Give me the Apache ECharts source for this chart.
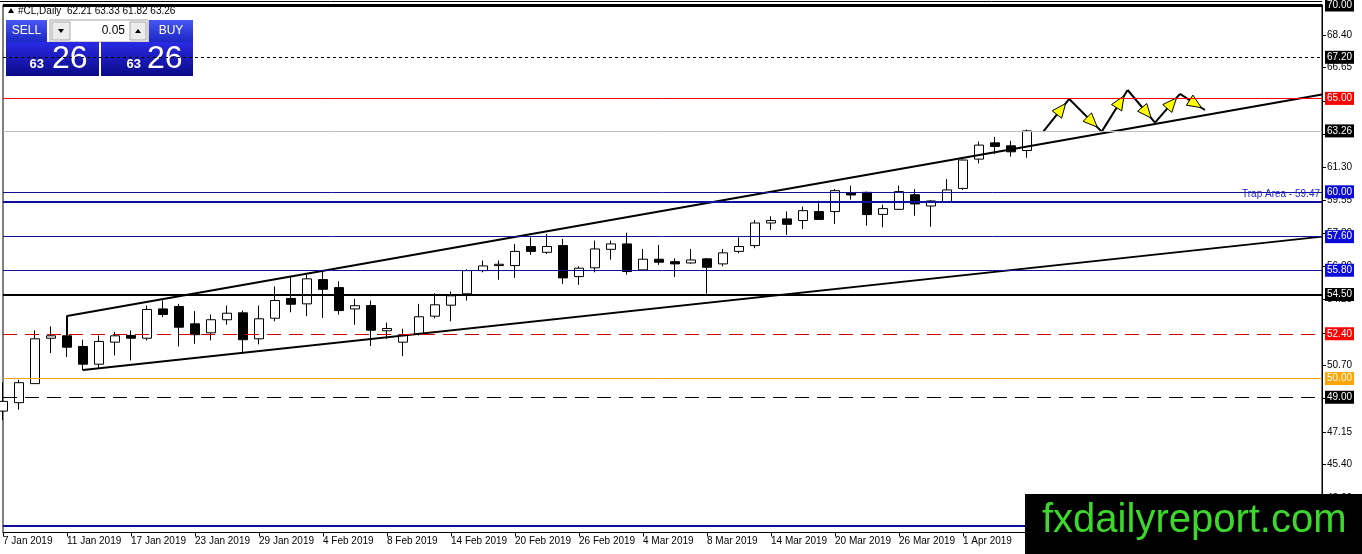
<!DOCTYPE html>
<html>
<head>
<meta charset="utf-8">
<title>#CL,Daily</title>
<script src="https://cdn.jsdelivr.net/npm/echarts@6/dist/echarts.min.js"></script>
<style>
    html, body { margin: 0; padding: 0; background: #fff; }
    #chart { width: 1362px; height: 554px; }
</style>
</head>
<body>
<div id="chart"></div>
<script>
// one bar per trading day, 7 Jan 2019 .. 5 Apr 2019
const dates = [
    '7 Jan 2019', '8 Jan 2019', '9 Jan 2019', '10 Jan 2019', '11 Jan 2019',
    '14 Jan 2019', '15 Jan 2019', '16 Jan 2019', '17 Jan 2019', '18 Jan 2019',
    '21 Jan 2019', '22 Jan 2019', '23 Jan 2019', '24 Jan 2019', '25 Jan 2019',
    '28 Jan 2019', '29 Jan 2019', '30 Jan 2019', '31 Jan 2019', '1 Feb 2019',
    '4 Feb 2019', '5 Feb 2019', '6 Feb 2019', '7 Feb 2019', '8 Feb 2019',
    '11 Feb 2019', '12 Feb 2019', '13 Feb 2019', '14 Feb 2019', '15 Feb 2019',
    '18 Feb 2019', '19 Feb 2019', '20 Feb 2019', '21 Feb 2019', '22 Feb 2019',
    '25 Feb 2019', '26 Feb 2019', '27 Feb 2019', '28 Feb 2019', '1 Mar 2019',
    '4 Mar 2019', '5 Mar 2019', '6 Mar 2019', '7 Mar 2019', '8 Mar 2019',
    '11 Mar 2019', '12 Mar 2019', '13 Mar 2019', '14 Mar 2019', '15 Mar 2019',
    '18 Mar 2019', '19 Mar 2019', '20 Mar 2019', '21 Mar 2019', '22 Mar 2019',
    '25 Mar 2019', '26 Mar 2019', '27 Mar 2019', '28 Mar 2019', '29 Mar 2019',
    '1 Apr 2019', '2 Apr 2019', '3 Apr 2019', '4 Apr 2019', '5 Apr 2019'
];

const opens = [
    48.26, 48.71, 49.73, 52.16, 52.29, 51.72, 50.77, 51.95, 52.31, 52.16,
    53.73, 53.86, 52.93, 52.45, 53.15, 53.52, 52.13, 53.23, 54.29, 54.00,
    55.30, 54.87, 53.73, 53.91, 52.56, 51.95, 52.40, 53.34, 53.93, 54.54,
    55.78, 56.05, 56.05, 57.07, 56.76, 57.12, 55.46, 55.93, 56.92, 57.21,
    55.82, 56.39, 56.26, 56.19, 56.41, 56.14, 56.81, 57.12, 58.33, 58.55,
    58.46, 58.94, 58.94, 59.94, 59.97, 58.79, 59.06, 59.84, 59.24, 59.47,
    60.18, 61.75, 62.62, 62.46, 62.21
];
const closes = [
    48.78, 49.78, 52.13, 52.29, 51.68, 50.77, 51.99, 52.29, 52.16, 53.70,
    53.43, 52.75, 52.35, 53.15, 53.50, 52.08, 53.20, 54.18, 53.98, 55.34,
    54.78, 53.64, 53.90, 52.59, 52.68, 52.35, 53.31, 53.95, 54.43, 55.78,
    56.03, 56.12, 56.81, 56.81, 57.07, 55.39, 55.91, 56.94, 57.21, 55.73,
    56.39, 56.23, 56.14, 56.35, 55.96, 56.73, 57.07, 58.33, 58.46, 58.26,
    58.99, 58.52, 60.06, 59.83, 58.78, 59.10, 60.01, 59.35, 59.51, 60.10,
    61.70, 62.50, 62.43, 62.14, 63.26
];
const lows = [
    47.77, 48.34, 49.73, 51.36, 51.15, 50.44, 50.58, 51.24, 50.97, 52.04,
    53.29, 51.72, 51.86, 52.04, 52.88, 51.33, 51.83, 53.07, 53.55, 53.34,
    53.25, 53.43, 52.88, 51.74, 52.13, 51.20, 52.31, 53.23, 53.07, 54.18,
    55.69, 55.29, 55.39, 56.62, 56.67, 55.07, 55.02, 55.69, 56.37, 55.57,
    55.82, 56.09, 55.43, 56.14, 54.54, 56.01, 56.71, 56.98, 57.96, 57.69,
    58.01, 58.52, 58.28, 59.58, 58.19, 58.10, 59.03, 58.72, 58.13, 59.47,
    60.10, 61.52, 62.02, 61.88, 61.82
];
const highs = [
    49.80, 49.94, 52.58, 52.79, 52.43, 52.08, 52.31, 52.50, 52.58, 53.91,
    54.18, 54.00, 53.61, 53.43, 53.91, 53.64, 53.91, 54.93, 55.43, 55.57,
    55.75, 55.20, 54.27, 54.18, 53.00, 52.67, 54.00, 54.57, 54.66, 55.85,
    56.32, 56.32, 57.21, 57.56, 57.74, 57.48, 56.01, 57.39, 57.39, 57.81,
    56.94, 57.16, 56.44, 56.94, 56.46, 56.94, 57.56, 58.49, 58.69, 58.95,
    59.20, 59.52, 60.15, 60.33, 60.01, 59.31, 60.33, 60.15, 59.55, 60.68,
    61.72, 62.69, 62.94, 62.73, 63.33
];

// price scale ticks as printed on the right
const priceTicks = [68.40, 66.65, 64.85, 63.10, 61.30, 59.55, 57.80, 56.00,
    54.25, 52.45, 50.70, 48.95, 47.15, 45.40, 43.60];

// horizontal levels drawn on the chart
const levels = [70.00, 67.20, 65.00, 63.26, 60.00, 59.47, 57.60, 55.80,
    54.50, 52.40, 50.00, 49.00, 42.10];

// hand drawn objects: [bar index, price]
const upperChannel = [[4, 52.33], [4, 53.35], [82.44, 65.21]];
const lowerChannel = [[5, 50.46], [82.44, 57.60]];
const zigzag = [[65.02, 63.22], [66.64, 64.97], [68.67, 63.22], [70.29, 65.45],
    [72.00, 63.70], [73.56, 65.24], [75.12, 64.38]];

const FONT = '"Liberation Sans", Arial, sans-serif';
const BLUE_LINE = '#10109c';
const BLUE_TAG = '#0c0cd8';

const levelStyle = {
    '70.00': {line: '#000', width: 3, type: 'solid', tag: '#000'},
    '67.20': {line: '#000', width: 1, type: [3, 3], tag: '#000'},
    '65.00': {line: '#ff0000', width: 1, type: 'solid', tag: '#ff0000'},
    '63.26': {line: '#c0c0c0', width: 1, type: 'solid', tag: '#000'},
    '60.00': {line: BLUE_LINE, width: 1, type: 'solid', tag: BLUE_TAG},
    '59.47': {line: BLUE_LINE, width: 2, type: 'solid', note: 'Trap Area'},
    '57.60': {line: BLUE_LINE, width: 1, type: 'solid', tag: BLUE_TAG},
    '55.80': {line: BLUE_LINE, width: 1, type: 'solid', tag: BLUE_TAG},
    '54.50': {line: '#000', width: 2, type: 'solid', tag: '#000'},
    '52.40': {line: '#cc0000', width: 1, type: [14, 8], tag: '#ff0000'},
    '50.00': {line: '#f5a000', width: 1, type: 'solid', tag: '#ffa500'},
    '49.00': {line: '#000', width: 1, type: [14, 8], tag: '#000'},
    '42.10': {line: BLUE_LINE, width: 2, type: 'solid'}
};

const n = closes.length;
const candles = closes.map((c, i) => [i, opens[i], c, lows[i], highs[i]]);
const dateTicks = dates.map((d, i) => i).filter(i => i % 4 === 0);

const levelLines = levels.map(v => {
    const key = v.toFixed(2);
    const s = levelStyle[key];
    let label = {show: false};
    if (s.tag) {
        label = {
            show: true, position: 'end', distance: 3,
            formatter: key, color: '#fff', backgroundColor: s.tag,
            padding: [2, 2, 1, 2], fontSize: 10, fontFamily: FONT
        };
    } else if (s.note) {
        label = {
            show: true, position: 'insideEndTop', distance: 2,
            formatter: s.note + ' - ' + key, color: '#2020d0',
            fontSize: 10, fontFamily: FONT
        };
    }
    return {
        yAxis: v,
        lineStyle: {color: s.line, width: s.width, type: s.type},
        label: label
    };
});

const arrowSegs = zigzag.slice(1).map((p, i) => [zigzag[i][0], zigzag[i][1], p[0], p[1]]);

function renderArrow(params, api) {
    const a = api.coord([api.value(0), api.value(1)]);
    const b = api.coord([api.value(2), api.value(3)]);
    const dx = b[0] - a[0], dy = b[1] - a[1];
    const len = Math.sqrt(dx * dx + dy * dy);
    const ux = dx / len, uy = dy / len;
    const tip = [a[0] + dx * 0.86, a[1] + dy * 0.86];
    const base = [tip[0] - ux * 14, tip[1] - uy * 14];
    const nx = -uy * 6, ny = ux * 6;
    return {
        type: 'group',
        children: [
            {type: 'line', shape: {x1: a[0], y1: a[1], x2: b[0], y2: b[1]},
                style: {stroke: '#000', lineWidth: 2}},
            {type: 'polygon',
                shape: {points: [tip, [base[0] + nx, base[1] + ny], [base[0] - nx, base[1] - ny]]},
                style: {fill: '#ffff00', stroke: '#000', lineWidth: 1}}
        ]
    };
}

// trade panel in the top left corner
const bid = closes[n - 1].toFixed(2).split('.');
const caption = '#CL,Daily  ' + [opens[n - 1], highs[n - 1], lows[n - 1], closes[n - 1]]
    .map(v => v.toFixed(2)).join(' ');
const btnGrad = () => new echarts.graphic.LinearGradient(0, 0, 0, 1, [
    {offset: 0, color: '#4657f2'}, {offset: 1, color: '#1c27c4'}]);
const boxGrad = () => new echarts.graphic.LinearGradient(0, 0, 0, 1, [
    {offset: 0, color: '#2a2ae6'}, {offset: 1, color: '#0a0a88'}]);

const panel = [
    {type: 'line', shape: {x1: 0, y1: 1.5, x2: 1322, y2: 1.5}, style: {stroke: '#000', lineWidth: 1}},
    {type: 'polygon', shape: {points: [[8, 13], [14, 13], [11, 8]]}, style: {fill: '#000'}},
    {type: 'text', x: 18, y: 11, style: {text: caption, font: '10px ' + FONT, fill: '#000', verticalAlign: 'middle'}},
    {type: 'rect', shape: {x: 4, y: 19, width: 191, height: 58}, style: {fill: '#fff'}},
    {type: 'rect', shape: {x: 6, y: 20, width: 41, height: 22}, style: {fill: btnGrad()}},
    {type: 'text', x: 26.5, y: 31, style: {text: 'SELL', font: '12px ' + FONT, fill: '#fff', align: 'center', verticalAlign: 'middle'}},
    {type: 'rect', shape: {x: 50, y: 20, width: 98, height: 22}, style: {fill: '#fff', stroke: '#a0a0a0', lineWidth: 1}},
    {type: 'rect', shape: {x: 52, y: 22, width: 18, height: 18}, style: {fill: '#ececec', stroke: '#a8a8a8', lineWidth: 1}},
    {type: 'polygon', shape: {points: [[58, 29], [64, 29], [61, 33]]}, style: {fill: '#000'}},
    {type: 'text', x: 125, y: 31, style: {text: '0.05', font: '12px ' + FONT, fill: '#000', align: 'right', verticalAlign: 'middle'}},
    {type: 'rect', shape: {x: 130, y: 22, width: 16, height: 18}, style: {fill: '#ececec', stroke: '#a8a8a8', lineWidth: 1}},
    {type: 'polygon', shape: {points: [[135, 33], [141, 33], [138, 29]]}, style: {fill: '#000'}},
    {type: 'rect', shape: {x: 149, y: 20, width: 44, height: 22}, style: {fill: btnGrad()}},
    {type: 'text', x: 171, y: 31, style: {text: 'BUY', font: '12px ' + FONT, fill: '#fff', align: 'center', verticalAlign: 'middle'}},
    {type: 'rect', shape: {x: 6, y: 42, width: 93, height: 34}, style: {fill: boxGrad()}},
    {type: 'rect', shape: {x: 101, y: 42, width: 92, height: 34}, style: {fill: boxGrad()}},
    {type: 'text', x: 44, y: 71, style: {text: bid[0], font: 'bold 13px ' + FONT, fill: '#fff', align: 'right', verticalAlign: 'bottom'}},
    {type: 'text', x: 52, y: 75, style: {text: bid[1], font: '32px ' + FONT, fill: '#fff', verticalAlign: 'bottom'}},
    {type: 'text', x: 141, y: 71, style: {text: bid[0], font: 'bold 13px ' + FONT, fill: '#fff', align: 'right', verticalAlign: 'bottom'}},
    {type: 'text', x: 147, y: 75, style: {text: bid[1], font: '32px ' + FONT, fill: '#fff', verticalAlign: 'bottom'}},
    // site watermark
    {type: 'rect', z: 100, shape: {x: 1025, y: 494, width: 337, height: 60}, style: {fill: '#000'}},
    {type: 'text', z: 101, x: 1042, y: 521, style: {text: 'fxdailyreport.com', font: '40px ' + FONT, fill: '#3cd92c', verticalAlign: 'middle'}}
];

const chart = echarts.init(document.getElementById('chart'));
chart.setOption({
    animation: false,
    backgroundColor: '#fff',
    textStyle: {fontFamily: FONT},
    grid: {left: 3, right: 40, top: 5, bottom: 21.5, show: true, borderColor: '#000', borderWidth: 1},
    xAxis: {
        type: 'value', min: 0, max: 82.4375,
        axisLine: {show: true, onZero: false, lineStyle: {color: '#000', width: 1}},
        axisTick: {show: true, length: 4, customValues: dateTicks, lineStyle: {color: '#000'}},
        axisLabel: {
            customValues: dateTicks, formatter: v => dates[v],
            align: 'left', margin: 4, color: '#000', fontSize: 10, fontFamily: FONT
        },
        splitLine: {show: false}
    },
    yAxis: {
        type: 'value', position: 'right', min: 41.76, max: 70, scale: true,
        axisLine: {show: true, onZero: false, lineStyle: {color: '#000', width: 1}},
        axisTick: {show: true, length: 4, customValues: priceTicks, lineStyle: {color: '#000'}},
        axisLabel: {
            customValues: priceTicks, formatter: v => v.toFixed(2),
            margin: 5, color: '#000', fontSize: 10, fontFamily: FONT
        },
        splitLine: {show: false}
    },
    series: [
        {
            type: 'candlestick',
            data: candles,
            encode: {x: 0, y: [1, 2, 3, 4]},
            barWidth: 9,
            silent: true,
            itemStyle: {color: '#fff', color0: '#000', borderColor: '#000', borderColor0: '#000', borderWidth: 1},
            markLine: {symbol: 'none', silent: true, animation: false, data: levelLines}
        },
        {
            type: 'line', data: upperChannel, symbol: 'none', silent: true, z: 3,
            lineStyle: {color: '#000', width: 2}
        },
        {
            type: 'line', data: lowerChannel, symbol: 'none', silent: true, z: 3,
            lineStyle: {color: '#000', width: 2}
        },
        {
            type: 'custom', data: arrowSegs, renderItem: renderArrow, silent: true, z: 4,
            encode: {x: [0, 2], y: [1, 3]}
        }
    ],
    graphic: panel
});
</script>
</body>
</html>
